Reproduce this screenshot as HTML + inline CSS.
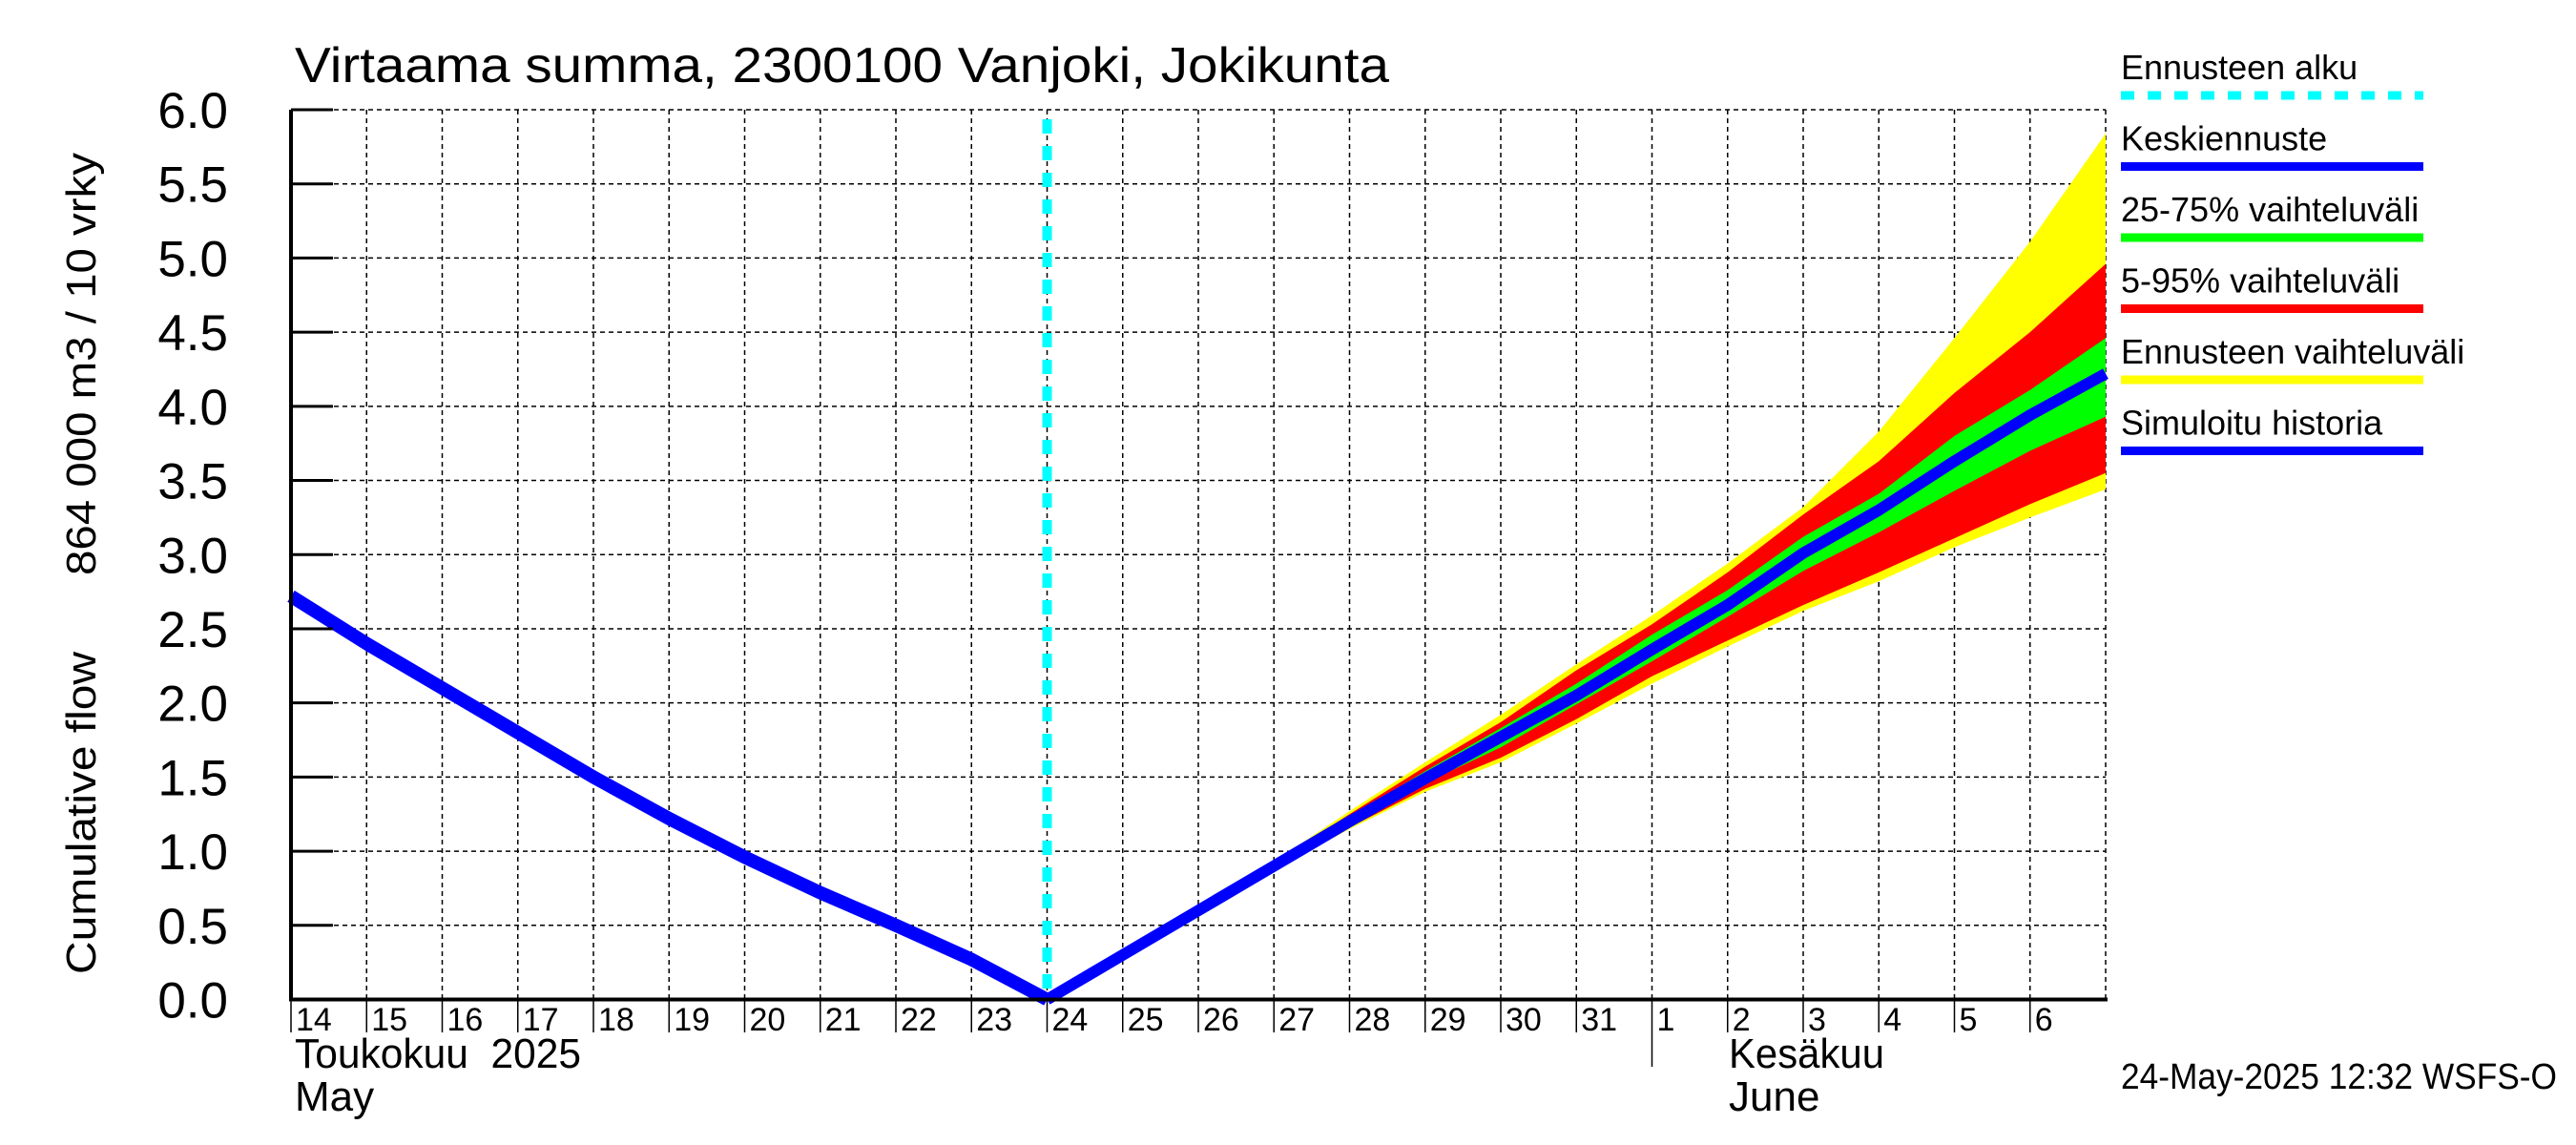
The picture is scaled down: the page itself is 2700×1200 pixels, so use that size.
<!DOCTYPE html>
<html><head><meta charset="utf-8">
<style>
html,body{margin:0;padding:0;background:#fff;}
svg{display:block;font-family:"Liberation Sans",Arial,sans-serif;}
</style></head>
<body>
<svg id="chart" width="2700" height="1200" viewBox="0 0 2700 1200" xmlns="http://www.w3.org/2000/svg">
<rect x="0" y="0" width="2700" height="1200" fill="#fff"/>
<g id="grid"></g>
<g id="bands"></g>
<g id="lines"></g>
<g id="axes"></g>
<text x="309" y="86" font-size="52" textLength="1147" lengthAdjust="spacingAndGlyphs">Virtaama summa, 2300100 Vanjoki, Jokikunta</text>
<g transform="translate(100,591) rotate(-90)">
<text x="-430" y="0" font-size="44" textLength="338" lengthAdjust="spacingAndGlyphs">Cumulative flow</text>
<text x="-12" y="0" font-size="44" textLength="443" lengthAdjust="spacingAndGlyphs">864 000 m3 / 10 vrky</text>
</g>
<text x="309" y="1119" font-size="44" textLength="300" lengthAdjust="spacingAndGlyphs" style="white-space:pre">Toukokuu  2025</text>
<text x="309" y="1164" font-size="44">May</text>
<text x="1812" y="1119" font-size="44" textLength="163" lengthAdjust="spacingAndGlyphs">Kesäkuu</text>
<text x="1812" y="1164" font-size="44">June</text>
<text x="2223" y="1141" font-size="38" textLength="457" lengthAdjust="spacingAndGlyphs">24-May-2025 12:32 WSFS-O</text>
<g id="legend"></g>
</svg>
<script>
const yTicks = [0,0.5,1,1.5,2,2.5,3,3.5,4,4.5,5,5.5,6];
const yTickLabels = ["0.0","0.5","1.0","1.5","2.0","2.5","3.0","3.5","4.0","4.5","5.0","5.5","6.0"];
const dayLabels = ["14","15","16","17","18","19","20","21","22","23","24","25","26","27","28","29","30","31","1","2","3","4","5","6"];
const historyDays = [0,1,2,3,4,5,6,7,8,9,10];
const historyValues = [2.72,2.40,2.10,1.80,1.50,1.22,0.96,0.72,0.50,0.27,0.0];
const forecastDays = [10,11,12,13,14,15,16,17,18,19,20,21,22,23,24];
const meanValues = [0.0,0.30,0.60,0.90,1.20,1.49,1.77,2.05,2.36,2.66,3.01,3.30,3.63,3.94,4.22];
const yellowTop = [0.0,0.30,0.61,0.93,1.27,1.60,1.92,2.26,2.59,2.94,3.32,3.83,4.46,5.11,5.84];
const redTop    = [0.0,0.30,0.61,0.92,1.25,1.57,1.87,2.22,2.53,2.88,3.27,3.63,4.09,4.50,4.96];
const greenTop  = [0.0,0.30,0.60,0.91,1.23,1.54,1.83,2.13,2.46,2.76,3.12,3.41,3.80,4.11,4.46];
const greenBot  = [0.0,0.30,0.60,0.89,1.18,1.46,1.70,1.99,2.28,2.58,2.89,3.15,3.43,3.70,3.93];
const redBot    = [0.0,0.30,0.59,0.88,1.16,1.42,1.63,1.89,2.18,2.42,2.66,2.88,3.11,3.34,3.55];
const yellowBot = [0.0,0.30,0.59,0.87,1.15,1.40,1.60,1.86,2.13,2.38,2.62,2.82,3.05,3.25,3.44];
const forecastStartDay = 10;
const legendLabels = ["Ennusteen alku","Keskiennuste","25-75% vaihteluväli","5-95% vaihteluväli","Ennusteen vaihteluväli","Simuloitu historia"];
const legendColors = ["#00ffff","#0000ff","#00ff00","#ff0000","#ffff00","#0000ff"];

const NS="http://www.w3.org/2000/svg";
const X0=305, X1=2207, Y0=1047.5, Y1=115, NDAYS=24;
const xS=d=>X0+(X1-X0)*d/NDAYS;
const yS=v=>Y0-(Y0-Y1)*v/6;
function mk(tag,attrs,parent){const e=document.createElementNS(NS,tag);for(const k in attrs)e.setAttribute(k,attrs[k]);parent.appendChild(e);return e;}
const grid=document.getElementById('grid'),bands=document.getElementById('bands'),lines=document.getElementById('lines'),axes=document.getElementById('axes'),legend=document.getElementById('legend');

yTicks.forEach((v,i)=>{
  const y=yS(v);
  if(i>0){const g=mk('line',{x1:X0,x2:X1,y1:y,y2:y,stroke:'#000','stroke-width':1.5,'stroke-dasharray':'5,4'},grid);
  
  }
  const t=mk('line',{x1:X0,x2:X0+44,y1:y,y2:y,stroke:'#000','stroke-width':3},axes);
  
  
  const lb=mk('text',{x:239,y:y+19,'text-anchor':'end','font-size':53},axes);
  lb.textContent=yTickLabels[i];
  
  
});
dayLabels.forEach((d,i)=>{
  const x=xS(i);
  if(i>0){const g=mk('line',{x1:x,x2:x,y1:Y1,y2:Y0,stroke:'#000','stroke-width':1.5,'stroke-dasharray':'5,4'},grid);
  
  }
  const t=mk('line',{x1:x,x2:x,y1:Y0,y2:(d==="1"?1118:1082),stroke:'#000','stroke-width':1.5},axes);
  
  
  const lb=mk('text',{x:x+5,y:1080,'font-size':34},axes);
  lb.textContent=d;
  
  
});
{const g=mk('line',{x1:X1,x2:X1,y1:Y1,y2:Y0,stroke:'#000','stroke-width':1.5,'stroke-dasharray':'5,4'},grid);

}

function band(top,bot,color,name){
  let p=forecastDays.map((d,i)=>xS(d)+','+yS(top[i]));
  p=p.concat(forecastDays.map((d,i)=>xS(d)+','+yS(bot[i])).reverse());
  const e=mk('polygon',{points:p.join(' '),fill:color},bands);
  
  
}
band(yellowTop,yellowBot,'#ffff00','band-full-range');
band(redTop,redBot,'#ff0000','band-5-95');
band(greenTop,greenBot,'#00ff00','band-25-75');

const hist=mk('polyline',{points:historyDays.map((d,i)=>xS(d)+','+yS(historyValues[i])).join(' '),fill:'none',stroke:'#0000ff','stroke-width':14,'stroke-linejoin':'round'},lines);


const mean=mk('polyline',{points:forecastDays.map((d,i)=>xS(d)+','+yS(meanValues[i])).join(' '),fill:'none',stroke:'#0000ff','stroke-width':12,'stroke-linejoin':'round'},lines);


const fs=mk('line',{x1:xS(forecastStartDay),x2:xS(forecastStartDay),y1:Y1+10,y2:Y0,stroke:'#00ffff','stroke-width':10,'stroke-dasharray':'15,13'},lines);



{const a=mk('line',{x1:X0,x2:X0,y1:Y1,y2:Y0+2,stroke:'#000','stroke-width':4},axes);


const b=mk('line',{x1:X0-2,x2:X1+2,y1:Y0,y2:Y0,stroke:'#000','stroke-width':4},axes);

}

legendLabels.forEach((l,i)=>{
  const y=83+i*74.5;
  const t=mk('text',{x:2223,y:y,'font-size':36},legend);
  t.textContent=l;
  
  
  const attrs={x1:2223,x2:2540,y1:y+17,y2:y+17,stroke:legendColors[i],'stroke-width':9};
  if(i===0)attrs['stroke-dasharray']='14,14';
  const ln=mk('line',attrs,legend);
  
  
});
</script>
</body></html>
